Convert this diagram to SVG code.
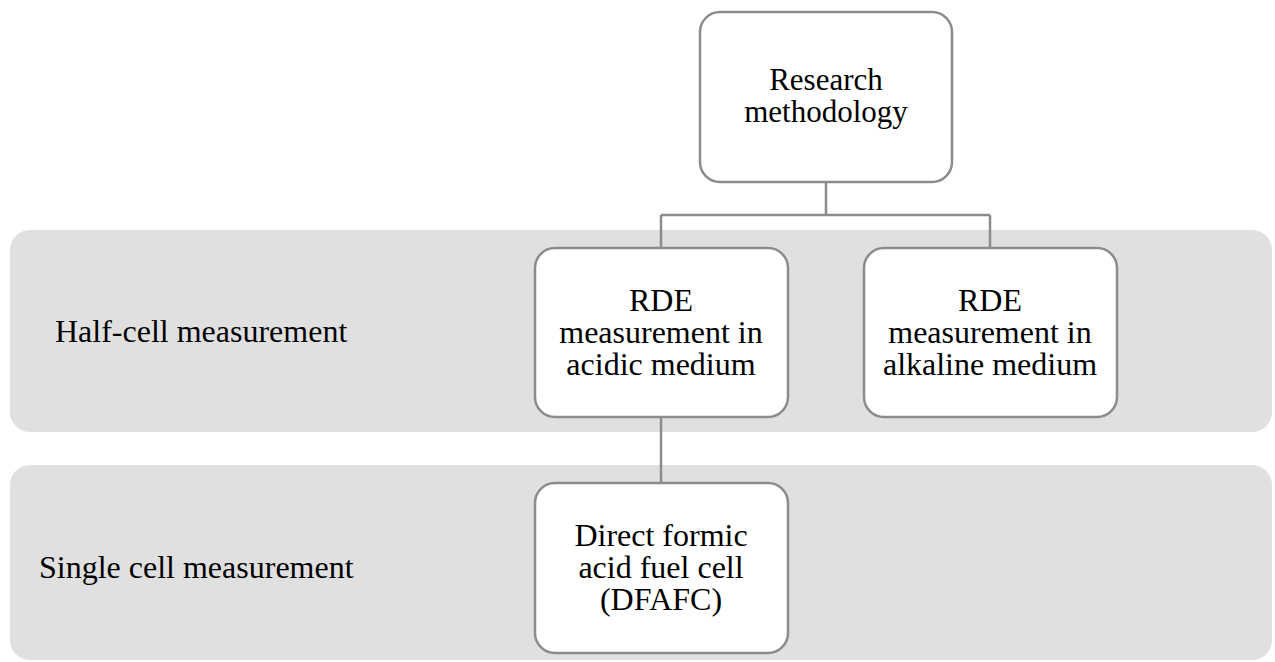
<svg xmlns="http://www.w3.org/2000/svg" width="1275" height="662" viewBox="0 0 1275 662" font-family="Liberation Serif, DejaVu Serif, serif" font-size="32">
<style>
.band{fill:#e0e0e0;}
.node{fill:#ffffff;stroke:#8c8c8c;stroke-width:2.5;}
.conn{stroke:#8c8c8c;stroke-width:2.5;fill:none;}
.c{text-anchor:middle;}
</style>
<rect width="1275" height="662" fill="#ffffff"/>
<g id="band-half">
<rect class="band" x="10" y="230" width="1262" height="202" rx="20"/>
<text x="55" y="342">Half-cell measurement</text>
</g>
<g id="band-single">
<rect class="band" x="10" y="465" width="1262" height="195" rx="20"/>
<text x="39" y="578">Single cell measurement</text>
</g>
<g id="connectors">
<path class="conn" d="M826,182 V215 M661,215 H990 M661,215 V248 M990,215 V248 M661,417 V483"/>
</g>
<g id="n-research">
<rect class="node" x="700" y="12" width="252" height="170" rx="20"/>
<text class="c" x="826" y="90" font-size="31">Research</text>
<text class="c" x="826" y="122" font-size="31">methodology</text>
</g>
<g id="n-acidic">
<rect class="node" x="535" y="248" width="253" height="169" rx="20"/>
<text class="c" x="661" y="311">RDE</text>
<text class="c" x="661" y="343">measurement in</text>
<text class="c" x="661" y="375">acidic medium</text>
</g>
<g id="n-alkaline">
<rect class="node" x="864" y="248" width="253" height="169" rx="20"/>
<text class="c" x="990" y="311">RDE</text>
<text class="c" x="990" y="343">measurement in</text>
<text class="c" x="990" y="375">alkaline medium</text>
</g>
<g id="n-dfafc">
<rect class="node" x="535" y="483" width="253" height="170" rx="20"/>
<text class="c" x="661" y="546">Direct formic</text>
<text class="c" x="661" y="578">acid fuel cell</text>
<text class="c" x="661" y="610">(DFAFC)</text>
</g>
</svg>
